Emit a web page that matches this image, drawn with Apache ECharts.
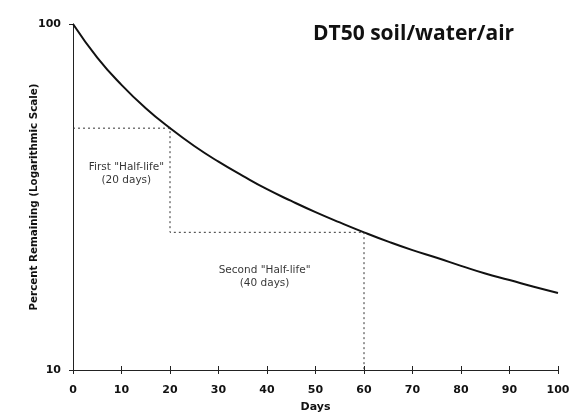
<!DOCTYPE html>
<html>
<head>
<meta charset="utf-8">
<script src="https://cdn.jsdelivr.net/npm/echarts@6/dist/echarts.min.js"></script>
<style>html,body{margin:0;padding:0;background:#fff;}#c{width:584px;height:414px;}</style>
</head>
<body>
<div id="c"></div>
<script>
// Days (x) and percent remaining (y)
const days = [0,5,10,15,20,25,30,35,40,45,50,55,60,65,70,75,80,85,90,95,100];
const percentRemaining = [100,80,66.7,57.1,50,44.4,40,36.4,33.3,30.8,28.6,26.7,25,23.5,22.2,21.1,20,19.0,18.2,17.4,16.7];
// Half-life guide path (dotted)
const guideDays = [0,20,20,60,60];
const guidePercent = [50,50,25,25,10];
// Annotations
const notes = [
  {day: 11, pct: 36.8, text: 'First "Half-life"\n(20 days)'},
  {day: 39.5, pct: 18.6, text: 'Second "Half-life"\n(40 days)'}
];
const xTicks = [0,10,20,30,40,50,60,70,80,90,100];
const yTicks = [10,100];
const titleText = 'DT50 soil/water/air';

const chart = echarts.init(document.getElementById('c'));
const font = 'DejaVu Sans';
chart.setOption({
  backgroundColor: '#fff',
  animation: false,
  title: {
    text: titleText, left: 308, top: 19,
    textStyle: {fontFamily: 'Open Sans', fontWeight: 'bold', fontSize: 21, color: '#111'}
  },
  grid: {left: 73, right: 26, top: 24, bottom: 44, outerBoundsMode: 'none', containLabel: false},
  xAxis: [{
    type: 'value', min: xTicks[0], max: xTicks[xTicks.length-1], interval: 10,
    name: 'Days', nameLocation: 'middle', nameGap: 32,
    nameTextStyle: {fontFamily: font, fontSize: 11, fontWeight: 'bold', color: '#111'},
    axisLine: {lineStyle: {color: '#222', width: 1}},
    axisTick: {show: true, length: 4, lineStyle: {color: '#222'}},
    axisLabel: {fontFamily: font, fontSize: 11, fontWeight: 'bold', color: '#111', margin: 15},
    splitLine: {show: false}
  },{
    type: 'value', min: xTicks[0], max: xTicks[xTicks.length-1], interval: 10,
    position: 'bottom',
    axisLine: {show: false},
    axisTick: {show: true, inside: true, length: 4, lineStyle: {color: '#222'}},
    axisLabel: {show: false},
    splitLine: {show: false}
  }],
  yAxis: {
    type: 'log', logBase: 10, min: yTicks[0], max: yTicks[1],
    name: 'Percent Remaining (Logarithmic Scale)', nameLocation: 'middle', nameGap: 34, nameRotate: 90,
    nameMoveOverlap: false,
    nameTextStyle: {fontFamily: font, fontSize: 10.3, fontWeight: 'bold', color: '#111'},
    axisLine: {show: true, lineStyle: {color: '#222', width: 1}},
    axisTick: {show: true, length: 4, lineStyle: {color: '#222'}},
    axisLabel: {fontFamily: font, fontSize: 11, fontWeight: 'bold', color: '#111', margin: 12},
    splitLine: {show: false}
  },
  series: [{
    type: 'line', smooth: true, showSymbol: false,
    data: days.map((d,i)=>[d, percentRemaining[i]]),
    lineStyle: {color: '#111', width: 2}
  },{
    type: 'line', showSymbol: false,
    data: guideDays.map((d,i)=>[d, guidePercent[i]]),
    lineStyle: {color: '#333', width: 1, type: [2,3]}
  },{
    type: 'scatter', symbolSize: 0,
    data: notes.map(n=>({value: [n.day, n.pct], label: {formatter: n.text}})),
    label: {show: true, position: 'inside', fontFamily: font, fontSize: 10.5, color: '#000', lineHeight: 13, align: 'center'}
  }]
});
</script>
</body>
</html>
